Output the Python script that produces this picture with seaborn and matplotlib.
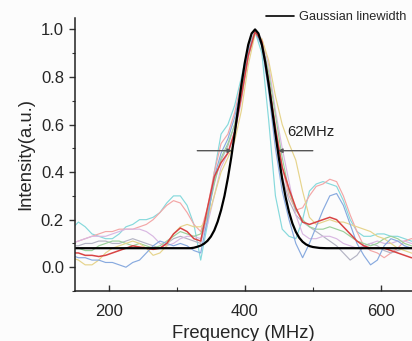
import numpy as np
import pandas as pd
import matplotlib
matplotlib.use("Agg")
import matplotlib.pyplot as plt
import seaborn as sns
from matplotlib.lines import Line2D

# ---------------- data ----------------
freq = np.arange(145, 656, 10)  # MHz, 145..655

cyan = [0.16, 0.19, 0.17, 0.14, 0.13, 0.12, 0.12, 0.14, 0.17, 0.18, 0.20, 0.20, 0.21,
        0.23, 0.27, 0.30, 0.30, 0.26, 0.18, 0.03, 0.18, 0.40, 0.56, 0.60, 0.68, 0.80,
        0.93, 0.99, 0.90, 0.62, 0.30, 0.16, 0.13, 0.12, 0.20, 0.32, 0.35, 0.36, 0.35,
        0.34, 0.28, 0.20, 0.15, 0.13, 0.13, 0.14, 0.14, 0.13, 0.13, 0.12, 0.11, 0.10]
pink = [0.10, 0.11, 0.12, 0.13, 0.14, 0.15, 0.15, 0.16, 0.16, 0.16, 0.17, 0.18, 0.20,
        0.23, 0.26, 0.28, 0.27, 0.23, 0.18, 0.15, 0.25, 0.40, 0.52, 0.56, 0.65, 0.78,
        0.92, 0.99, 0.95, 0.80, 0.60, 0.42, 0.30, 0.24, 0.25, 0.30, 0.34, 0.35, 0.37,
        0.36, 0.30, 0.22, 0.15, 0.09, 0.07, 0.06, 0.04, 0.06, 0.08, 0.11, 0.12, 0.12]
red = [0.06, 0.06, 0.05, 0.05, 0.045, 0.05, 0.06, 0.07, 0.08, 0.09, 0.085, 0.08, 0.075,
       0.08, 0.10, 0.14, 0.165, 0.15, 0.12, 0.11, 0.25, 0.38, 0.44, 0.48, 0.57, 0.72,
       0.89, 0.99, 0.95, 0.78, 0.58, 0.42, 0.33, 0.25, 0.19, 0.18, 0.19, 0.20, 0.21,
       0.20, 0.17, 0.14, 0.11, 0.09, 0.08, 0.08, 0.08, 0.07, 0.06, 0.05, 0.04, 0.04]
yellow = [0.04, 0.03, 0.01, 0.01, 0.03, 0.06, 0.08, 0.09, 0.10, 0.11, 0.10, 0.08, 0.05,
          0.06, 0.09, 0.14, 0.17, 0.18, 0.17, 0.17, 0.20, 0.30, 0.40, 0.46, 0.53, 0.66,
          0.85, 0.98, 0.96, 0.87, 0.72, 0.60, 0.52, 0.45, 0.32, 0.21, 0.18, 0.19, 0.20,
          0.19, 0.19, 0.18, 0.17, 0.16, 0.15, 0.13, 0.12, 0.10, 0.08, 0.07, 0.06, 0.05]
green = [0.08, 0.08, 0.07, 0.07, 0.09, 0.10, 0.11, 0.11, 0.10, 0.09, 0.10, 0.09, 0.08,
         0.09, 0.11, 0.13, 0.15, 0.14, 0.13, 0.14, 0.22, 0.35, 0.46, 0.52, 0.60, 0.74,
         0.90, 0.99, 0.95, 0.82, 0.64, 0.46, 0.32, 0.24, 0.20, 0.17, 0.16, 0.16, 0.17,
         0.16, 0.15, 0.13, 0.11, 0.10, 0.09, 0.10, 0.12, 0.13, 0.12, 0.10, 0.09, 0.09]
blue = [0.05, 0.04, 0.04, 0.03, 0.03, 0.02, 0.02, 0.01, 0.00, 0.02, 0.03, 0.06, 0.09,
        0.11, 0.10, 0.09, 0.10, 0.09, 0.07, 0.06, 0.20, 0.38, 0.48, 0.54, 0.63, 0.76,
        0.91, 0.99, 0.93, 0.74, 0.50, 0.32, 0.20, 0.10, 0.04, 0.10, 0.17, 0.24, 0.30,
        0.31, 0.26, 0.18, 0.10, 0.05, 0.01, 0.03, 0.09, 0.12, 0.11, 0.09, 0.08, 0.08]
lavender = [0.10, 0.11, 0.12, 0.13, 0.13, 0.13, 0.14, 0.15, 0.16, 0.16, 0.16, 0.15, 0.13,
            0.10, 0.09, 0.10, 0.12, 0.13, 0.13, 0.12, 0.18, 0.30, 0.42, 0.48, 0.56, 0.70,
            0.88, 0.99, 0.96, 0.85, 0.66, 0.50, 0.36, 0.22, 0.14, 0.12, 0.12, 0.13, 0.13,
            0.12, 0.10, 0.09, 0.08, 0.09, 0.10, 0.11, 0.10, 0.10, 0.11, 0.11, 0.10, 0.10]
gray = [0.09, 0.09, 0.10, 0.10, 0.11, 0.11, 0.10, 0.10, 0.11, 0.12, 0.11, 0.10, 0.09,
        0.08, 0.10, 0.12, 0.13, 0.12, 0.11, 0.10, 0.22, 0.36, 0.45, 0.51, 0.60, 0.73,
        0.89, 0.99, 0.94, 0.78, 0.55, 0.38, 0.28, 0.22, 0.19, 0.17, 0.15, 0.13, 0.11,
        0.09, 0.06, 0.03, 0.05, 0.09, 0.10, 0.09, 0.07, 0.06, 0.07, 0.08, 0.08, 0.08]

series = {"cyan": cyan, "pink": pink, "gray": gray, "lavender": lavender,
          "green": green, "yellow": yellow, "blue": blue, "red": red}
palette = {"cyan": "#86d9dc", "pink": "#f3a7a7", "red": "#d84444", "yellow": "#e6d48c",
           "green": "#9bd09b", "blue": "#88aadf", "lavender": "#d9b8e2", "gray": "#b4b4c4"}

# Gaussian fit line
fit_freq = [150, 320, 325, 330, 335, 340, 345, 350, 355, 360, 365, 370, 375, 380, 385,
            390, 395, 400, 405, 410, 415, 420, 425, 430, 435, 440, 445, 450, 455, 460,
            465, 470, 475, 480, 485, 490, 495, 500, 505, 510, 520, 650]
fit_int = [0.08, 0.08, 0.082, 0.086, 0.091, 0.099, 0.111, 0.129, 0.155, 0.192, 0.240,
           0.300, 0.375, 0.462, 0.561, 0.666, 0.769, 0.862, 0.936, 0.983, 1.0, 0.983,
           0.936, 0.862, 0.769, 0.666, 0.561, 0.460, 0.370, 0.294, 0.232, 0.184, 0.149,
           0.124, 0.107, 0.096, 0.089, 0.085, 0.083, 0.081, 0.08, 0.08]

df = pd.DataFrame([(f, v, name) for name, vals in series.items() for f, v in zip(freq, vals)],
                  columns=["freq", "intensity", "series"])
fit_df = pd.DataFrame({"freq": fit_freq, "intensity": fit_int})

# ---------------- plot ----------------
sns.set_theme(style="ticks")
plt.rcParams["font.family"] = ["Liberation Sans", "DejaVu Sans"]

fig = plt.figure(figsize=(4.12, 3.41), dpi=100, facecolor="#fcfcfc")
ax = fig.add_axes([75 / 412, 50 / 341, 1 - 75 / 412, (291 - 18) / 341])
ax.set_facecolor("#fcfcfc")

for name in series:
    sub = df[df["series"] == name]
    sns.lineplot(data=sub, x="freq", y="intensity", color=palette[name],
                 lw=1.1 if name == "red" else 0.85, ax=ax, legend=False)
sns.lineplot(data=fit_df, x="freq", y="intensity", color="black", lw=1.6, ax=ax,
             legend=False)

ax.set_xlim(150, 646)
ax.set_ylim(-0.1, 1.048)
ax.set_xticks([200, 400, 600])
ax.set_xticks([300, 500], minor=True)
ax.set_yticks([0.0, 0.2, 0.4, 0.6, 0.8, 1.0])
ax.set_yticks(np.round(np.arange(-0.1, 1.05, 0.1), 2), minor=True)
ax.set_yticklabels(["0.0", "0.2", "0.4", "0.6", "0.8", "1.0"])
ax.tick_params(axis="x", which="major", direction="in", length=4, width=1,
               labelsize=12, pad=9, color="#333333")
ax.tick_params(axis="x", which="minor", direction="in", length=3, width=0.8,
               color="#333333")
ax.tick_params(axis="y", which="major", direction="out", length=4, width=1,
               labelsize=12, pad=4, color="#333333")
ax.tick_params(axis="y", which="minor", direction="out", length=2.5, width=0.8,
               color="#333333")
for s in ["top", "right"]:
    ax.spines[s].set_visible(False)
for s in ["left", "bottom"]:
    ax.spines[s].set_color("#222222")
    ax.spines[s].set_linewidth(1.1)

ax.set_xlabel("Frequency (MHz)", fontsize=13.3, labelpad=5)
ax.set_ylabel("Intensity(a.u.)", fontsize=13.3, labelpad=5)

# FWHM arrows
arrow_kw = dict(arrowstyle="-|>", color="#555555", lw=1.0, mutation_scale=6,
                shrinkA=0, shrinkB=0)
ax.annotate("", xy=(381, 0.49), xytext=(330, 0.49), arrowprops=arrow_kw)
ax.annotate("", xy=(449, 0.49), xytext=(500, 0.49), arrowprops=arrow_kw)
ax.text(462, 0.567, "62MHz", fontsize=10.7, ha="left", va="center", color="#222222")

handle = Line2D([], [], color="black", lw=1.2)
ax.legend([handle], ["Gaussian linewidth"], loc="center left",
          bbox_to_anchor=(266 / 412, 1 - 17.5 / 341), bbox_transform=fig.transFigure,
          frameon=False, fontsize=9.2, borderpad=0, borderaxespad=0,
          handlelength=2.2, handletextpad=0.35)

fig.savefig("out.png", dpi=100, facecolor=fig.get_facecolor())
